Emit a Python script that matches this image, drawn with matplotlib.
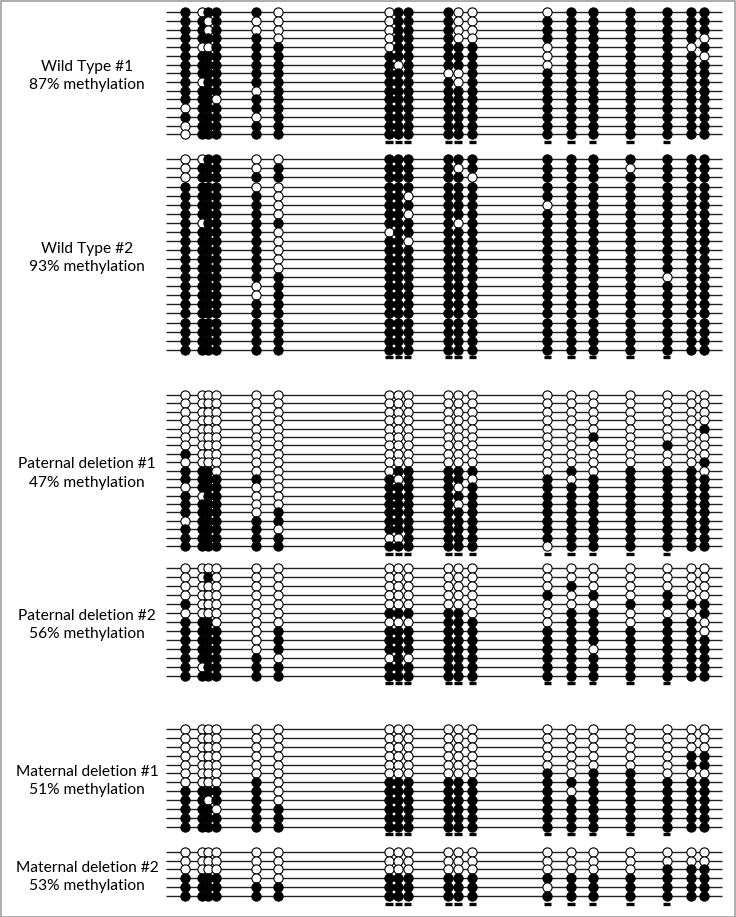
import matplotlib
matplotlib.use("Agg")
import matplotlib.pyplot as plt
import numpy as np
from matplotlib.patches import Rectangle

# ---------------- data (1 = methylated / filled, 0 = unmethylated / open) -------------
wt1_label = ["Wild Type #1", "87% methylation"]
wt1 = [
    "1011100111000111111",
    "1101000111001111111",
    "1101000111001111111",
    "1111100111001111110",
    "1001110111110111101",
    "1111111111110111110",
    "1111111011110111111",
    "1111111110011111111",
    "1011111111011111111",
    "1111011111111111111",
    "1110111111111111111",
    "0111111111111111111",
    "1111011111111111111",
    "0111111111111111111",
    "0111111111111111111",
]

wt2_label = ["Wild Type #2", "93% methylation"]
wt2 = [
    "0011001111111111111",
    "0111011111011110111",
    "0111111111101111111",
    "1111001111111111111",
    "1111101101111111111",
    "1111101111110111111",
    "1111101101111111111",
    "1011111111011111111",
    "1111100111111111111",
    "1111101101111111111",
    "1111101111111111111",
    "1111101111111111111",
    "1111101111111111111",
    "1111111111111111011",
    "1111011111111111111",
    "1111011111111111111",
    "1111111111111111111",
    "1111111111111111111",
    "1111111111111111111",
    "1111111111111111111",
    "1111111111111111111",
    "1111111111111111111",
]

pat1_label = ["Paternal deletion #1", "47% methylation"]
pat1 = [
    "0000000000000000000",
    "0000000000000000000",
    "0000000000000000000",
    "0000000000000000000",
    "0000000000000000001",
    "0000000000000010000",
    "0000000000000000100",
    "1000000000000000000",
    "0000000000000000001",
    "1110000111110101110",
    "1111101011101011111",
    "0111001111011111111",
    "1011001111111111111",
    "1111001111011111111",
    "1111011111111111111",
    "0111111111111111111",
    "1111101111111111111",
    "1111110011111111111",
    "1111111111110111111",
]

pat2_label = ["Paternal deletion #2", "56% methylation"]
pat2 = [
    "0000000000000000000",
    "0010000000000000000",
    "0000000000000100000",
    "0000000000001010100",
    "1000000000000001111",
    "0000001111100110001",
    "1110000001110110110",
    "1111011111111111110",
    "1111011111111111111",
    "1111011111111101111",
    "1111100101111111111",
    "1011111111111111111",
    "1111111111111111111",
]

mat1_label = ["Maternal deletion #1", "51% methylation"]
mat1 = [
    "0000000000000000000",
    "0000000000000000000",
    "0000000000000000000",
    "0000000000000000011",
    "0000000000000000011",
    "0000000000001011000",
    "0000101111111111111",
    "1111101111111011111",
    "1101101111111111111",
    "1110111111111111111",
    "1111111111111111111",
    "1111111111111111111",
]

mat2_label = ["Maternal deletion #2", "53% methylation"]
mat2 = [
    "0000000000000000000",
    "0000000000000000000",
    "0000000000000000111",
    "1111001111111111111",
    "1111111111110111111",
    "1111111111111111111",
]

# ---------------- layout (pixel coordinates of the 736 x 917 canvas) -----------------
W, H = 736, 917
cpg_x = [185, 201.7, 208.3, 216, 255.7, 278.3, 389, 398.3, 407.7,
         448.3, 458, 472.3, 547.3, 571, 592.7, 630, 666.7, 691, 704]
bar_cols = list(range(6, 17))
line_x0, line_x1 = 166, 722
label_x = 87

panels = [
    (wt1, wt1_label, 12.3, 134.3),
    (wt2, wt2_label, 159.3, 349.7),
    (pat1, pat1_label, 395.0, 546.0),
    (pat2, pat2_label, 568.0, 675.7),
    (mat1, mat1_label, 729.0, 826.7),
    (mat2, mat2_label, 851.7, 896.0),
]

plt.rcParams['font.family'] = ['Lato', 'DejaVu Sans']
fig = plt.figure(figsize=(W / 100, H / 100), dpi=100)
ax = fig.add_axes([0, 0, 1, 1])
ax.set_xlim(0, W)
ax.set_ylim(H, 0)
ax.axis('off')

msize = 44
for rows, label, top, bottom in panels:
    n = len(rows)
    ys = np.linspace(top, bottom, n)
    ax.hlines(ys, line_x0, line_x1, color='#222222', lw=1.0, zorder=1)
    for ci, cx in enumerate(cpg_x):
        for ri, r in enumerate(rows):
            filled = r[ci] == '1'
            ax.scatter([cx], [ys[ri]], s=msize,
                       facecolor='black' if filled else 'white',
                       edgecolor='black', linewidths=0.8, zorder=2 + ci * 0.01)
    ybar = bottom + 7.5
    for ci in bar_cols:
        ax.hlines(ybar, cpg_x[ci] - 3.6, cpg_x[ci] + 3.6, color='black', lw=2.4,
                  capstyle='butt', zorder=3)
    ymid = (top + bottom) / 2 + 3
    ax.text(label_x, ymid - 9, label[0], ha='center', va='center', fontsize=11.2)
    ax.text(label_x, ymid + 9, label[1], ha='center', va='center', fontsize=11.2)

fig.patches.append(Rectangle((0.5 / W, 0.5 / H), 1 - 1.5 / W, 1 - 1.5 / H,
                             transform=fig.transFigure, fill=False,
                             edgecolor='#a0a0a0', lw=1.2))
fig.savefig('out.png', dpi=100)
